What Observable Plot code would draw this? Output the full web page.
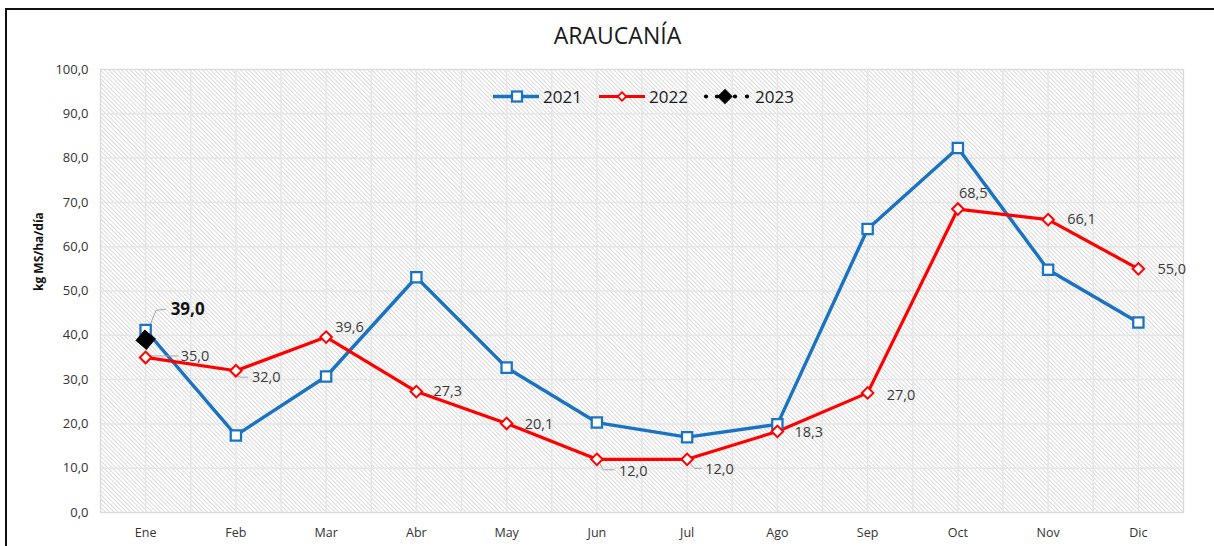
<!DOCTYPE html>
<html><head><meta charset="utf-8">
<script src="https://cdn.jsdelivr.net/npm/d3@7"></script>
<script src="https://cdn.jsdelivr.net/npm/@observablehq/plot@0.6"></script>
<style>
html,body{margin:0;padding:0;background:#fff;width:1214px;height:546px;overflow:hidden}
#wrap{position:relative;width:1214px;height:546px}
#border{position:absolute;left:5px;top:8px;width:1300px;height:600px;border-top:2px solid #111;border-left:2px solid #111;box-sizing:border-box;pointer-events:none}
#wrap svg{position:absolute;left:0;top:0}
</style></head><body><div id="wrap"><div id="border"></div></div>
<script>
// ---- data ----
const title = "ARAUCANÍA";
const yLabel = "kg MS/ha/día";
const months = ["Ene","Feb","Mar","Abr","May","Jun","Jul","Ago","Sep","Oct","Nov","Dic"];
const seriesNames = ["2021","2022","2023"];
const values2021 = [41.2, 17.4, 30.7, 53.1, 32.7, 20.3, 17.0, 19.9, 64.0, 82.3, 54.8, 42.9];
const values2022 = [35.0, 32.0, 39.6, 27.3, 20.1, 12.0, 12.0, 18.3, 27.0, 68.5, 66.1, 55.0];
const values2023 = [39.0];
const yTicks = [0, 10, 20, 30, 40, 50, 60, 70, 80, 90, 100];

// ---- layout (label offsets in px, relative to marker) ----
const labelOffsets2022 = [[35,-1],[16,7],[9,-10],[17,0],[18,1],[22,12],[18,10],[17,1],[19,2],[1,-16],[19,0],[19,1]];
const labelOffset2023 = [25,-30];
const leaderLayout = [
  {s:"2022", i:0, pts:[[5,-1],[33,-1]]},
  {s:"2022", i:1, pts:[[1,5],[5,7],[13,7]]},
  {s:"2022", i:5, pts:[[2,2],[7,11],[18,11]]},
  {s:"2022", i:6, pts:[[3,4],[8,9.5],[15,9.5]]},
  {s:"2023", i:0, pts:[[4,-12],[11,-29],[21,-30]]}
];

const fmt = v => v.toFixed(1).replace(".", ",");
const rows21 = values2021.map((v,i)=>({i, v, s:seriesNames[0]}));
const rows22 = values2022.map((v,i)=>({i, v, s:seriesNames[1]}));
const rows23 = values2023.map((v,i)=>({i, v, s:seriesNames[2]}));
const valueOf = {"2021":values2021, "2022":values2022, "2023":values2023};

const BLUE = "#1a73c2", RED = "#ff0000";
const halfTicks = d3.range(-0.5, months.length, 0.5);

function leaders(index, scales) {
  const g = d3.create("svg:g").attr("fill","none").attr("stroke","#a6a6a6").attr("stroke-width",1);
  for (const L of leaderLayout) {
    const cx = scales.x(L.i), cy = scales.y(valueOf[L.s][L.i]);
    g.append("polyline").attr("points", L.pts.map(([dx,dy]) => (cx+dx)+","+(cy+dy)).join(" "));
  }
  return g.node();
}

const labelMarks2022 = rows22.map((r,k) => Plot.text([r], {
  x:"i", y:"v", text:d=>fmt(d.v), textAnchor:"start", lineAnchor:"middle",
  dx:labelOffsets2022[k][0], dy:labelOffsets2022[k][1], fill:"#3a3a3a", fontSize:14.5
}));

const plot = Plot.plot({
  width:1214, height:546,
  marginLeft:100, marginRight:31, marginTop:69, marginBottom:34,
  style:{fontFamily:"'Open Sans', sans-serif", fontSize:"13px", color:"#404040", background:"transparent"},
  x:{domain:[-0.5, months.length-0.5]},
  y:{domain:[0,100]},
  marks:[
    Plot.frame({fill:"url(#hatch)", stroke:null}),
    Plot.gridX({ticks:halfTicks, stroke:"#e6e6e6", strokeOpacity:1, strokeWidth:1.5}),
    Plot.gridY({ticks:yTicks, stroke:"#e6e6e6", strokeOpacity:1, strokeWidth:1.5}),
    Plot.frame({stroke:"#d9d9d9", strokeWidth:1}),
    Plot.axisY({ticks:yTicks, tickSize:0, tickPadding:12, tickFormat:fmt, label:null, fontSize:13, fill:"#333"}),
    Plot.axisX({ticks:months.map((_,i)=>i), tickFormat:i=>months[i], tickSize:0, tickPadding:16, label:null, fontSize:12.5, fill:"#333"}),
    Plot.text([yLabel], {text:d=>d, frameAnchor:"left", dx:-61, rotate:-90, fontWeight:"bold", fontSize:12, fill:"#111"}),
    Plot.lineY(rows21, {x:"i", y:"v", stroke:BLUE, strokeWidth:3.4, strokeLinejoin:"round"}),
    Plot.lineY(rows22, {x:"i", y:"v", stroke:RED, strokeWidth:3.2, strokeLinejoin:"round"}),
    leaders,
    Plot.dot(rows21, {x:"i", y:"v", symbol:"square", r:5.8, fill:"#fff", stroke:BLUE, strokeWidth:2.25}),
    Plot.dot(rows22, {x:"i", y:"v", symbol:"square", r:4.6, rotate:45, fill:"#fff", stroke:RED, strokeWidth:2}),
    Plot.dot(rows23, {x:"i", y:"v", symbol:"square", r:7.6, rotate:40, fill:"#000", stroke:"#000", strokeWidth:1}),
    ...labelMarks2022,
    Plot.text(rows23, {x:"i", y:"v", text:d=>fmt(d.v), textAnchor:"start", lineAnchor:"middle",
      dx:labelOffset2023[0], dy:labelOffset2023[1], fontWeight:"bold", fontSize:17, fill:"#111"})
  ]
});

const svg = d3.select(plot);
const defs = svg.insert("defs", ":first-child");
const P = 3;
const pat = defs.append("pattern").attr("id","hatch").attr("patternUnits","userSpaceOnUse")
  .attr("width",P).attr("height",P).attr("patternTransform","rotate(-45)");
pat.append("rect").attr("width",P).attr("height",P).attr("fill","#fff");
pat.append("line").attr("x1",0.5).attr("y1",0).attr("x2",0.5).attr("y2",P).attr("stroke","#dadada").attr("stroke-width",1);

// title
svg.append("text").attr("x",617.5).attr("y",43.5).attr("text-anchor","middle")
  .attr("font-family","'Open Sans', sans-serif").attr("font-size",23).attr("fill","#1a1a1a").text(title);

// legend
const lg = svg.append("g").attr("font-family","'Open Sans', sans-serif").attr("font-size",17)
  .attr("fill","#1a1a1a").attr("text-anchor","start");
const ly = 96.5;
// 2021
lg.append("line").attr("x1",493).attr("x2",539).attr("y1",ly).attr("y2",ly).attr("stroke",BLUE).attr("stroke-width",3.4);
lg.append("rect").attr("x",517-5).attr("y",ly-5).attr("width",10).attr("height",10).attr("fill","#fff").attr("stroke",BLUE).attr("stroke-width",2.25);
lg.append("text").attr("x",543).attr("y",ly).attr("dy","0.36em").text(seriesNames[0]);
// 2022
lg.append("line").attr("x1",599).attr("x2",645).attr("y1",ly).attr("y2",ly).attr("stroke",RED).attr("stroke-width",3.2);
lg.append("rect").attr("x",-3).attr("y",-3).attr("width",6).attr("height",6).attr("fill","#fff").attr("stroke",RED).attr("stroke-width",1.8)
  .attr("transform",`translate(622,${ly}) rotate(45)`);
lg.append("text").attr("x",649).attr("y",ly).attr("dy","0.36em").text(seriesNames[1]);
// 2023
for (const x of [706,717,735,747]) lg.append("circle").attr("cx",x).attr("cy",ly).attr("r",2.1).attr("fill","#000");
lg.append("rect").attr("x",-5.5).attr("y",-5.5).attr("width",11).attr("height",11).attr("fill","#000")
  .attr("transform",`translate(725,${ly}) rotate(45)`);
lg.append("text").attr("x",755).attr("y",ly).attr("dy","0.36em").text(seriesNames[2]);

document.getElementById("wrap").appendChild(plot);
</script></body></html>
